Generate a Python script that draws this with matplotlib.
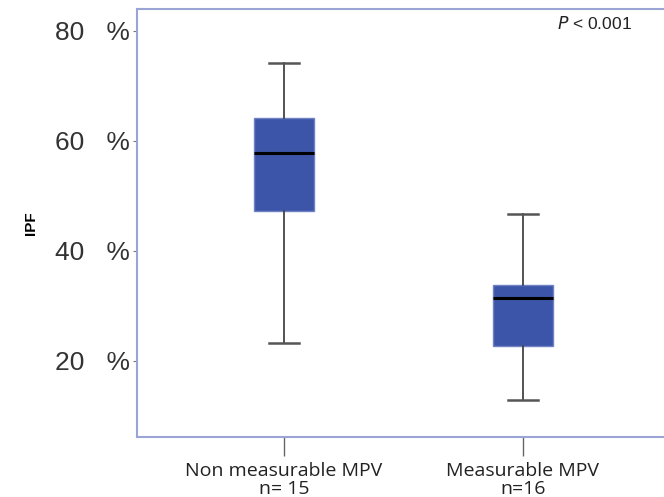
import matplotlib.pyplot as plt

# group labels and box statistics (percent)
groups = ["Non measurable MPV\nn= 15", "Measurable MPV\nn=16"]
whislo = [23.3, 12.9]
q1 = [47.3, 22.7]
med = [57.8, 31.5]
q3 = [64.2, 33.8]
whishi = [74.2, 46.7]
yticks = [20, 40, 60, 80]

stats = []
for i, g in enumerate(groups):
    stats.append(dict(label=g, whislo=whislo[i], q1=q1[i], med=med[i],
                      q3=q3[i], whishi=whishi[i], fliers=[]))

fig = plt.figure(figsize=(6.64, 4.97), dpi=100)
ax = fig.add_axes([0.206, 0.121, 0.794, 0.861])

ax.bxp(stats, positions=[1, 2], widths=0.25, patch_artist=True, showfliers=False,
       boxprops=dict(facecolor="#3d55a8", edgecolor="#6f82c4", linewidth=1.0),
       medianprops=dict(color="black", linewidth=2.2),
       whiskerprops=dict(color="#444444", linewidth=1.3),
       capprops=dict(color="#555555", linewidth=1.8),
       capwidths=0.125)

ax.set_xlim(0.385, 2.59)
ax.set_ylim(6.2, 84)
ax.set_yticks(yticks)
ax.set_yticklabels(["%d   %%" % v for v in yticks], fontsize=19,
                   color="#333333", family="Liberation Sans")
ax.tick_params(axis="y", length=3, width=0.8, color="#777777", pad=2)
ax.tick_params(axis="x", length=14, width=1.0, color="#666666", pad=4)
for lab in ax.get_xticklabels():
    lab.set_fontsize(14)
    lab.set_family("Open Sans")
    lab.set_color("#222222")
    lab.set_linespacing(1.0)

for s in ["left", "bottom", "top"]:
    ax.spines[s].set_color("#9aa5d6")
    ax.spines[s].set_linewidth(1.5)
ax.spines["right"].set_visible(False)

ax.set_ylabel("IPF", fontsize=11, fontweight="bold", family="Liberation Sans",
              labelpad=12)
ax.text(0.94, 0.985, "$\\it{P}$ < 0.001", transform=ax.transAxes,
        ha="right", va="top", fontsize=12.5, family="Liberation Sans",
        color="#222222")

fig.savefig("out.png", dpi=100)
